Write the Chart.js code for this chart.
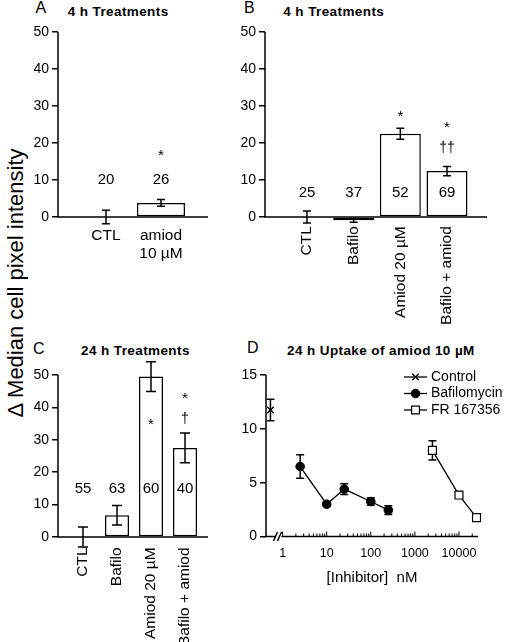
<!DOCTYPE html>
<html>
<head>
<meta charset="utf-8">
<script src="https://cdn.jsdelivr.net/npm/chart.js@4.4.1/dist/chart.umd.min.js"></script>
<style>
  body { margin: 0; background: #fff; font-family: "Liberation Sans", Arial, sans-serif; }
  #page { position: relative; width: 505px; height: 642px; overflow: hidden; background: #fff; }
  .box { position: absolute; }
  .lbl { position: absolute; white-space: nowrap; color: #000; line-height: 1; }
  .letter { font-size: 16px; }
  .ttl { font-size: 13.5px; font-weight: bold; letter-spacing: 0.4px; }
  #ytitle { position: absolute; left: 16px; top: 283px; font-size: 22px; line-height: 1; white-space: nowrap;
            transform: translate(-50%, -50%) rotate(-90deg); }
</style>
</head>
<body>
<div id="page">
  <div class="lbl letter" style="left:35.5px;top:0px">A</div>
  <div class="lbl ttl" style="left:67.7px;top:5.4px">4 h Treatments</div>
  <div class="lbl letter" style="left:244px;top:0px">B</div>
  <div class="lbl ttl" style="left:283.3px;top:5.4px">4 h Treatments</div>
  <div class="lbl letter" style="left:33px;top:341px">C</div>
  <div class="lbl ttl" style="left:81px;top:344px">24 h Treatments</div>
  <div class="lbl letter" style="left:247px;top:340px">D</div>
  <div class="lbl ttl" style="left:287px;top:344px">24 h Uptake of amiod 10 µM</div>
  <div id="ytitle">Δ Median cell pixel intensity</div>

  <div class="box" id="boxA"><canvas id="chartA"></canvas></div>
  <div class="box" id="boxB"><canvas id="chartB"></canvas></div>
  <div class="box" id="boxC"><canvas id="chartC"></canvas></div>
  <div class="box" id="boxD"><canvas id="chartD"></canvas></div>
</div>

<script>
// A: 4 h treatments
const labelsA = ['CTL', ['amiod', '10 µM']];
const valuesA = [0, 3.8];
const errorsA = [1.8, 0.9];
const countsA = ['20', '26'];
const marksA = [[], ['*']];

// B: 4 h treatments
const labelsB = ['CTL', 'Bafilo', 'Amiod 20 µM', 'Bafilo + amiod'];
const valuesB = [0, -0.9, 22.5, 12.4];
const errorsB = [1.6, 0.5, 1.5, 1.25];
const countsB = ['25', '37', '52', '69'];
const marksB = [[], [], ['*'], ['*', '††']];

// C: 24 h treatments
const labelsC = ['CTL', 'Bafilo', 'Amiod 20 µM', 'Bafilo + amiod'];
const valuesC = [0, 6.7, 49.5, 27.5];
const errorsC = [3.1, 3.0, 4.6, 4.6];
const countsC = ['55', '63', '60', '40'];
const marksC = [[], [], ['*'], ['*', '†']];

// D: 24 h uptake of amiod 10 µM
const ctlX = [0.53];
const ctlY = [11.75];
const ctlErr = [1.0];
const bafX = [2.5, 10, 25, 100, 250];
const bafY = [6.5, 3.0, 4.4, 3.25, 2.45];
const bafErr = [1.1, 0.2, 0.5, 0.35, 0.4];
const frX = [2500, 10000, 25000];
const frY = [8.0, 3.85, 1.75];
const frErr = [0.9, 0.3, 0.1];

const barTicks = [0, 10, 20, 30, 40, 50];
const doseTicks = [0, 5, 10, 15];
const logTicks = [1, 10, 100, 1000, 10000];

const FONT = '"Liberation Sans", Arial, Helvetica, sans-serif';
Chart.defaults.font.family = FONT;
Chart.defaults.color = '#000';
Chart.defaults.animation = false;
Chart.defaults.events = [];
Chart.defaults.plugins.legend.display = false;
Chart.defaults.plugins.tooltip.enabled = false;

// page boxes: container + where the plot area must sit
const boxA = { x: 0, y: 20, w: 222, h: 300, left: 58, top: 32, right: 208, bottom: 226.25 };
const boxB = { x: 222, y: 20, w: 283, h: 320, left: 265, top: 32, right: 487, bottom: 226.25 };
const boxC = { x: 0, y: 340, w: 222, h: 302, left: 58, top: 358.8, right: 208, bottom: 547.4 };
const boxD = { x: 222, y: 340, w: 283, h: 302, left: 266, top: 375, right: 478, bottom: 536.5 };

function place(id, b) {
  const d = document.getElementById(id);
  d.style.left = b.x + 'px'; d.style.top = b.y + 'px';
  d.style.width = b.w + 'px'; d.style.height = b.h + 'px';
}

function drawErrors(chart, cap) {
  const { ctx } = chart;
  const y = chart.scales.y;
  ctx.save();
  ctx.strokeStyle = '#000';
  ctx.lineWidth = 1.5;
  chart.data.datasets.forEach((ds, i) => {
    if (!ds.errors) return;
    chart.getDatasetMeta(i).data.forEach((el, j) => {
      const e = ds.errors[j];
      if (!e) return;
      const v = ds.data[j].y;
      const t = y.getPixelForValue(v + e), b = y.getPixelForValue(v - e);
      ctx.beginPath();
      ctx.moveTo(el.x, t); ctx.lineTo(el.x, b);
      ctx.moveTo(el.x - cap, t); ctx.lineTo(el.x + cap, t);
      ctx.moveTo(el.x - cap, b); ctx.lineTo(el.x + cap, b);
      ctx.stroke();
    });
  });
  ctx.restore();
}

const errorBars = {
  id: 'errorBars',
  beforeDatasetsDraw(chart, args, o) { if (o.under) drawErrors(chart, o.cap); },
  afterDatasetsDraw(chart, args, o) { if (!o.under) drawErrors(chart, o.cap); }
};

// n counts and significance marks over the bars
const barNotes = {
  id: 'barNotes',
  afterDatasetsDraw(chart, args, o) {
    const { ctx } = chart;
    const y = chart.scales.y;
    ctx.save();
    ctx.fillStyle = '#000';
    ctx.textAlign = 'center';
    ctx.textBaseline = 'middle';
    chart.getDatasetMeta(0).data.forEach((el, i) => {
      ctx.font = '15px ' + FONT;
      ctx.fillText(o.counts[i], el.x, y.getPixelForValue(o.countAt));
      o.marks[i].forEach((m, k) => {
        const star = m === '*';
        ctx.font = (star ? '15px ' : '14px ') + FONT;
        ctx.fillText(m, el.x, y.getPixelForValue(o.markAt[i][k]) + (star ? 3.5 : 0));
      });
    });
    ctx.restore();
  }
};

// axis lines that stop at the last tick
const axisLines = {
  id: 'axisLines',
  afterDraw(chart, args, o) {
    const { ctx, chartArea: a } = chart;
    const y = chart.scales.y;
    const y0 = y.getPixelForValue(0), yTop = y.getPixelForValue(o.yTo);
    ctx.save();
    ctx.strokeStyle = '#000';
    ctx.lineWidth = 1.5;
    ctx.beginPath();
    ctx.moveTo(a.left, yTop); ctx.lineTo(a.left, y0); ctx.lineTo(a.right, y0);
    ctx.stroke();
    ctx.restore();
  }
};

function barChart(id, box, labels, values, errors, counts, marks, o) {
  const xs = labels.map((_, i) => i + 1);
  return new Chart(document.getElementById(id), {
    type: 'bar',
    data: {
      datasets: [{
        data: xs.map((x, i) => ({ x, y: values[i] })),
        errors,
        backgroundColor: '#fff',
        borderColor: '#000',
        borderWidth: 1.5,
        borderSkipped: false,
        categoryPercentage: 1,
        barPercentage: o.barPct
      }]
    },
    options: {
      responsive: true,
      maintainAspectRatio: false,
      layout: { padding: { top: box.top - box.y, right: box.x + box.w - box.right, left: 0, bottom: 0 } },
      scales: {
        x: {
          type: 'linear', min: o.xMin, max: o.xMax, offset: false,
          grid: { display: false, drawTicks: false }, border: { display: false },
          afterBuildTicks: s => { s.ticks = xs.map(v => ({ value: v })); },
          afterFit: s => { s.height = box.y + box.h - box.bottom; },
          ticks: {
            autoSkip: false, maxRotation: o.rot, minRotation: o.rot, padding: o.pad,
            font: { size: 15.5 }, callback: v => labels[Math.round(v) - 1]
          }
        },
        y: {
          min: o.yMin, max: o.yMax,
          grid: { drawOnChartArea: false, tickLength: 6, color: '#000', lineWidth: 1.5 },
          border: { display: false },
          afterBuildTicks: s => { s.ticks = barTicks.map(v => ({ value: v })); },
          afterFit: s => { s.width = box.left - box.x; },
          ticks: { padding: 3, font: { size: 14 } }
        }
      },
      plugins: {
        errorBars: { cap: o.cap, under: false },
        barNotes: { counts, marks, countAt: o.countAt, markAt: o.markAt },
        axisLines: { yTo: 50 }
      }
    },
    plugins: [errorBars, barNotes, axisLines]
  });
}

place('boxA', boxA); place('boxB', boxB); place('boxC', boxC); place('boxD', boxD);

barChart('chartA', boxA, labelsA, valuesA, errorsA, countsA, marksA, {
  xMin: 0.127, xMax: 2.855, barPct: 0.873, rot: 0, pad: 0, yMin: -2.5, yMax: 50,
  cap: 4, countAt: 10, markAt: [[], [17.5]]
});
barChart('chartB', boxB, labelsB, valuesB, errorsB, countsB, marksB, {
  xMin: 0.1, xMax: 4.857, barPct: 0.878, rot: 90, pad: 0, yMin: -2.5, yMax: 50,
  cap: 4, countAt: 6.5, markAt: [[], [], [28.1], [25, 18.6]]
});
barChart('chartC', boxC, labelsC, valuesC, errorsC, countsC, marksC, {
  xMin: 0.265, xMax: 4.676, barPct: 0.706, rot: 90, pad: 0, yMin: -3.2, yMax: 55,
  cap: 5, countAt: 14.8, markAt: [[], [], [35.6], [43.8, 36.3]]
});

// D: log axis with break, inward minor ticks, custom legend
const logFrame = {
  id: 'logFrame',
  afterDraw(chart, args, o) {
    const { ctx, chartArea: a } = chart;
    const x = chart.scales.x, y = chart.scales.y;
    const y0 = y.getPixelForValue(0), yTop = y.getPixelForValue(o.yTo);
    ctx.save();
    ctx.strokeStyle = '#000';
    ctx.lineWidth = 1.5;
    ctx.beginPath();
    ctx.moveTo(a.left, yTop); ctx.lineTo(a.left, y0); ctx.lineTo(a.left + 9, y0);
    ctx.moveTo(a.left + 15.5, y0); ctx.lineTo(a.right, y0);
    ctx.moveTo(a.left + 7.5, y0 + 4.5); ctx.lineTo(a.left + 11.5, y0 - 4.5);
    ctx.moveTo(a.left + 11.5, y0 + 4.5); ctx.lineTo(a.left + 15.5, y0 - 4.5);
    ctx.stroke();
    ctx.lineWidth = 1;
    ctx.beginPath();
    logTicks.forEach(dec => {
      for (let k = 1; k <= 9; k++) {
        const v = k * dec;
        if (v > x.max) break;
        const px = x.getPixelForValue(v);
        ctx.moveTo(px, y0); ctx.lineTo(px, y0 - (k === 1 ? 5 : 3));
      }
    });
    ctx.stroke();

    chart.data.datasets.forEach((ds, i) => {
      const ly = o.legendY + i * o.legendGap;
      ctx.strokeStyle = '#000';
      ctx.lineWidth = 1.3;
      ctx.beginPath();
      ctx.moveTo(o.legendX, ly); ctx.lineTo(o.legendX + 23, ly);
      ctx.stroke();
      ctx.fillStyle = ds.backgroundColor;
      ctx.lineWidth = ds.pointBorderWidth;
      Chart.helpers.drawPoint(ctx, { pointStyle: ds.pointStyle, radius: ds.pointRadius, rotation: 0, borderWidth: ds.pointBorderWidth }, o.legendX + 11.5, ly);
      ctx.fillStyle = '#000';
      ctx.font = '14px ' + FONT;
      ctx.textAlign = 'left';
      ctx.textBaseline = 'middle';
      ctx.fillText(ds.label, o.legendX + 27, ly);
    });
    ctx.restore();
  }
};

const pts = (xs, ys) => xs.map((x, i) => ({ x, y: ys[i] }));

new Chart(document.getElementById('chartD'), {
  type: 'scatter',
  data: {
    datasets: [
      { label: 'Control', data: pts(ctlX, ctlY), errors: ctlErr, showLine: false, clip: false,
        pointStyle: 'crossRot', pointRadius: 4.6, pointBorderWidth: 1.3,
        borderColor: '#000', backgroundColor: '#000' },
      { label: 'Bafilomycin', data: pts(bafX, bafY), errors: bafErr, showLine: true, clip: false,
        borderColor: '#000', borderWidth: 1.3, pointStyle: 'circle', pointRadius: 4.3,
        backgroundColor: '#000', pointBorderWidth: 1 },
      { label: 'FR 167356', data: pts(frX, frY), errors: frErr, showLine: true, clip: false,
        borderColor: '#000', borderWidth: 1.3, pointStyle: 'rect', pointRadius: 5.6,
        backgroundColor: '#fff', pointBorderWidth: 1.2 }
    ]
  },
  options: {
    responsive: true,
    maintainAspectRatio: false,
    layout: { padding: { top: boxD.top - boxD.y, right: boxD.x + boxD.w - boxD.right, left: 0, bottom: 0 } },
    scales: {
      x: {
        type: 'logarithmic', min: 0.42, max: 27000,
        grid: { display: false, drawTicks: false }, border: { display: false },
        afterBuildTicks: s => { s.ticks = logTicks.map(v => ({ value: v })); },
        afterFit: s => { s.height = boxD.y + boxD.h - boxD.bottom; },
        ticks: { autoSkip: false, maxRotation: 0, padding: 9.5, font: { size: 12.5 }, callback: v => String(v) },
        title: { display: true, text: '[Inhibitor]  nM', font: { size: 15 }, padding: { top: 0, bottom: 55 } }
      },
      y: {
        min: 0, max: 15,
        grid: { drawOnChartArea: false, tickLength: 6, color: '#000', lineWidth: 1.5 },
        border: { display: false },
        afterBuildTicks: s => { s.ticks = doseTicks.map(v => ({ value: v })); },
        afterFit: s => { s.width = boxD.left - boxD.x; },
        ticks: { padding: 3, font: { size: 14 } }
      }
    },
    plugins: {
      errorBars: { cap: 4, under: true },
      logFrame: { yTo: 15, legendX: 182, legendY: 37, legendGap: 16.5 }
    }
  },
  plugins: [errorBars, logFrame]
});
</script>
</body>
</html>
